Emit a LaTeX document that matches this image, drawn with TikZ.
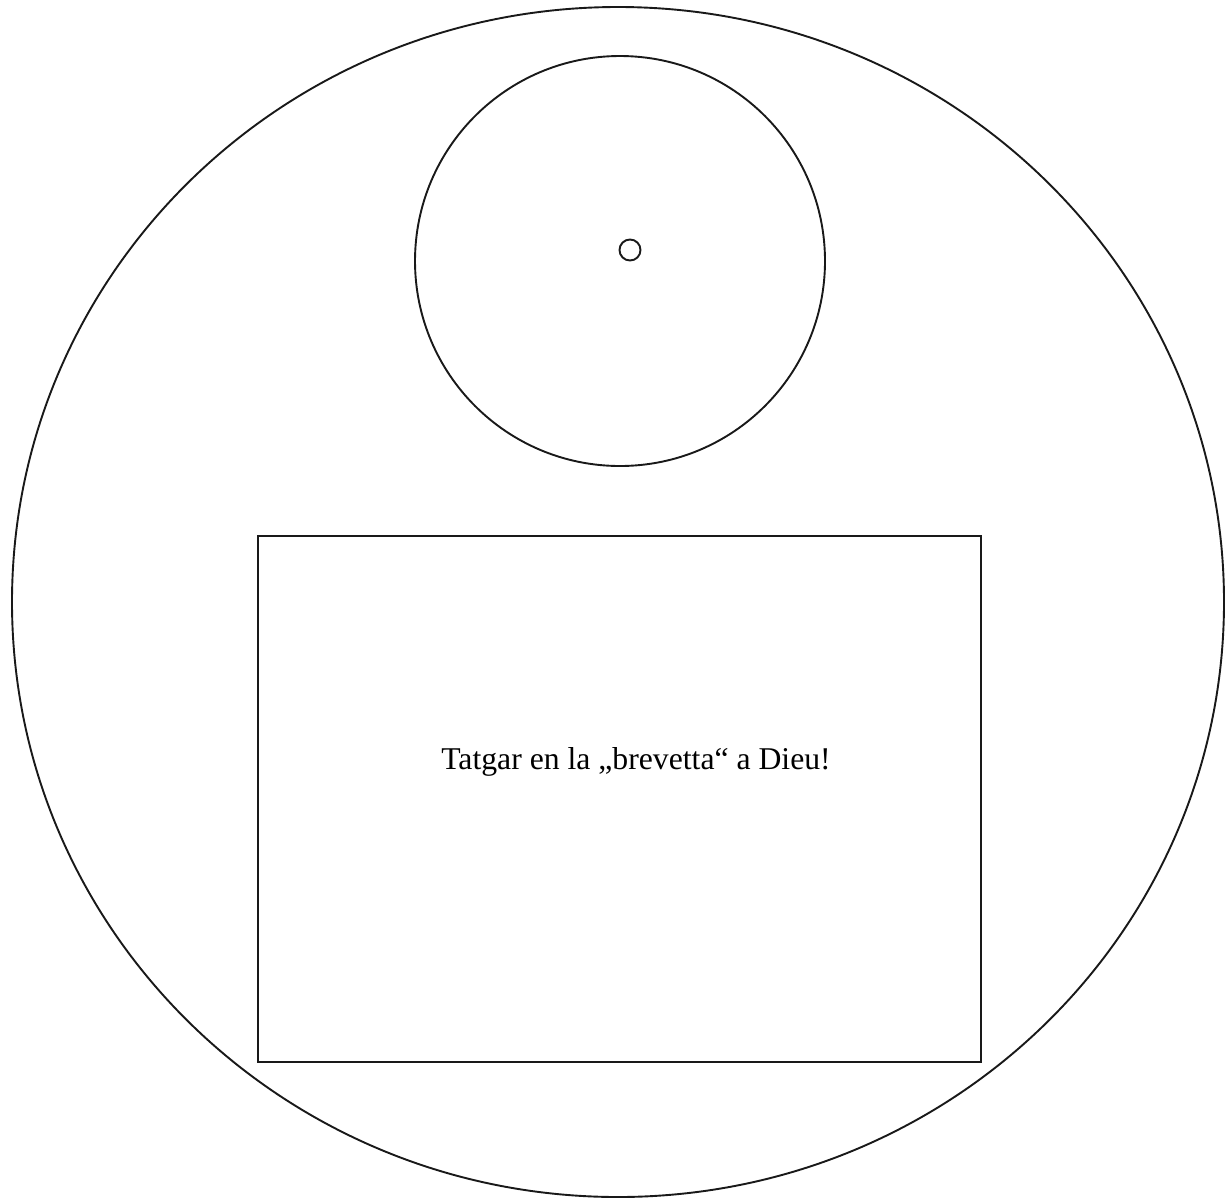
\documentclass[tikz,border=0pt]{standalone}
\usepackage{fontspec}
\setmainfont{Liberation Serif}
\begin{document}
\begin{tikzpicture}[x=1pt,y=-1pt,
  shape line/.style={draw=black!90,line width=1.9pt}]
\useasboundingbox (0,0) rectangle (1225,1200);
\fill[white] (0,0) rectangle (1225,1200);
\draw[shape line] (618,602) ellipse [x radius=606, y radius=595];
\draw[shape line] (620,261) circle [radius=205];
\draw[shape line] (630,250) circle [radius=10.5];
\draw[shape line] (258,536) rectangle (981,1062);
\node[anchor=base,inner sep=0pt,font=\fontsize{31.7}{38}\selectfont] (label) at (636,769) {Tatgar en la „brevetta“ a Dieu!};
\end{tikzpicture}
\end{document}
